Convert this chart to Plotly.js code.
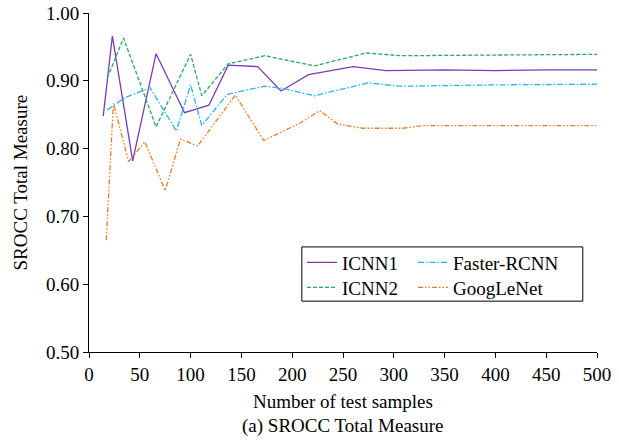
<!DOCTYPE html>
<html>
<head>
<meta charset="utf-8">
<script src="https://cdn.plot.ly/plotly-3.0.1.min.js"></script>
<style>html,body{margin:0;padding:0;background:#fff;}#chart{width:619px;height:440px;}</style>
</head>
<body>
<div id="chart"></div>
<script>
// Data
const icnn1X = [14, 23, 43, 66, 94, 118, 137, 166, 189, 216, 260, 292, 350, 400, 450, 500];
const icnn1Y = [0.848, 0.966, 0.782, 0.940, 0.853, 0.864, 0.923, 0.921, 0.885, 0.909, 0.921, 0.915, 0.916, 0.915, 0.916, 0.916];

const icnn2X = [18, 34, 66, 100, 111, 137, 173, 222, 273, 306, 400, 500];
const icnn2Y = [0.904, 0.963, 0.832, 0.939, 0.878, 0.925, 0.937, 0.922, 0.941, 0.937, 0.938, 0.939];

const frcnnX = [18, 35, 60, 86, 100, 111, 136, 173, 190, 222, 275, 306, 400, 500];
const frcnnY = [0.857, 0.875, 0.890, 0.826, 0.894, 0.834, 0.880, 0.892, 0.889, 0.878, 0.897, 0.892, 0.894, 0.895];

const googX = [17, 24, 39, 55, 75, 90, 107, 144, 172, 207, 227, 245, 270, 309, 329, 400, 500];
const googY = [0.665, 0.867, 0.781, 0.810, 0.738, 0.814, 0.804, 0.879, 0.812, 0.837, 0.856, 0.836, 0.830, 0.830, 0.834, 0.834, 0.834];

const seriesNames = ["ICNN1", "ICNN2", "Faster-RCNN", "GoogLeNet"];
const xTicks = [0, 50, 100, 150, 200, 250, 300, 350, 400, 450, 500];
const yTicks = [0.50, 0.60, 0.70, 0.80, 0.90, 1.00];
const yTickText = ["0.50", "0.60", "0.70", "0.80", "0.90", "1.00"];

const font = "Liberation Serif, Times New Roman, serif";

const traces = [
  {x: icnn1X, y: icnn1Y, name: seriesNames[0], mode: "lines", legend: "legend",
   line: {color: "#7b3bb8", width: 1.3, dash: "solid"}},
  {x: icnn2X, y: icnn2Y, name: seriesNames[1], mode: "lines", legend: "legend2",
   line: {color: "#22ad62", width: 1.3, dash: "4px,2px"}},
  {x: frcnnX, y: frcnnY, name: seriesNames[2], mode: "lines", legend: "legend3",
   line: {color: "#22b6ee", width: 1.3, dash: "6px,2px,1.5px,2px"}},
  {x: googX, y: googY, name: seriesNames[3], mode: "lines", legend: "legend4",
   line: {color: "#f07a26", width: 1.3, dash: "5px,2px,1.5px,2px,1.5px,2px"}}
];

function legendAt(px, py) {
  return {
    xref: "container", yref: "container",
    x: px / 619, y: 1 - py / 440, xanchor: "left", yanchor: "top",
    orientation: "v", borderwidth: 0, bgcolor: "rgba(0,0,0,0)",
    font: {family: font, size: 19, color: "#000"}
  };
}

const layout = {
  width: 619, height: 440,
  margin: {l: 89, r: 22, t: 13, b: 88, autoexpand: false},
  paper_bgcolor: "#fff", plot_bgcolor: "#fff",
  font: {family: font, size: 19, color: "#000"},
  showlegend: true,
  legend: legendAt(302, 243.5),
  legend2: legendAt(302, 268.5),
  legend3: legendAt(413, 243.5),
  legend4: legendAt(413, 268.5),
  shapes: [{
    type: "rect", xref: "paper", yref: "paper",
    x0: 0.419, x1: 0.972, y0: 0.150, y1: 0.310,
    line: {color: "#000", width: 1}, fillcolor: "rgba(0,0,0,0)", layer: "above"
  }],
  xaxis: {
    range: [0, 500], tickvals: xTicks, ticks: "outside", ticklen: 5, tickcolor: "#000",
    showline: true, linecolor: "#000", linewidth: 1, showgrid: false, zeroline: false,
    automargin: false,
    tickfont: {family: font, size: 19}
  },
  yaxis: {
    range: [0.5, 1.0], tickvals: yTicks, ticktext: yTickText, ticks: "outside", ticklen: 5, tickcolor: "#000",
    showline: true, linecolor: "#000", linewidth: 1, showgrid: false, zeroline: false,
    automargin: false,
    tickfont: {family: font, size: 19}
  },
  annotations: [
    {text: "Number of test samples", xref: "paper", yref: "paper", x: 0.5, y: 0, yshift: -37,
     xanchor: "center", yanchor: "top", showarrow: false, font: {family: font, size: 19}},
    {text: "(a) SROCC Total Measure", xref: "paper", yref: "paper", x: 0.5, y: 0, yshift: -61,
     xanchor: "center", yanchor: "top", showarrow: false, font: {family: font, size: 19}},
    {text: "SROCC Total Measure", xref: "paper", yref: "paper", x: 0, y: 0.5, xshift: -69,
     xanchor: "center", yanchor: "middle", textangle: -90, showarrow: false, font: {family: font, size: 19}}
  ]
};

Plotly.newPlot("chart", traces, layout, {displayModeBar: false, staticPlot: true});
</script>
</body>
</html>
